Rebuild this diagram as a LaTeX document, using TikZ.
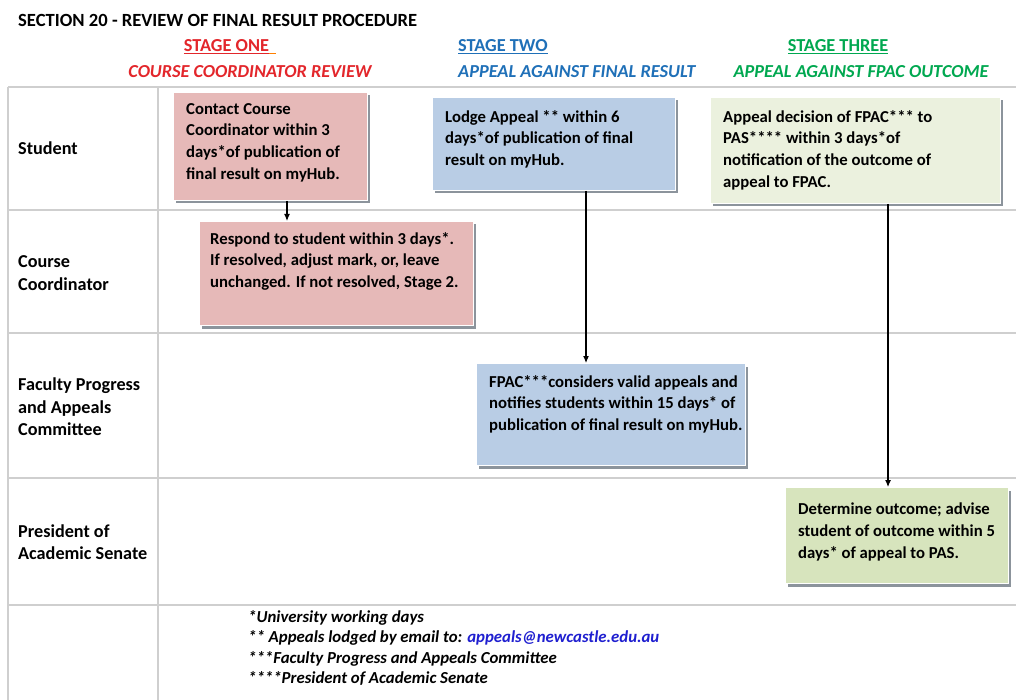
\documentclass[tikz,border=0pt]{standalone}
\usepackage{fontspec}
\setmainfont{Carlito}
\usetikzlibrary{shadows,arrows.meta}
\definecolor{pinkf}{HTML}{E6B9B8}
\definecolor{bluef}{HTML}{B9CDE5}
\definecolor{greenl}{HTML}{EBF1DE}
\definecolor{greend}{HTML}{D7E4BD}
\definecolor{redt}{HTML}{E3262B}
\definecolor{bluet}{HTML}{1F70B8}
\definecolor{greent}{HTML}{00A850}
\definecolor{gridc}{HTML}{CFCFCF}
\definecolor{mailc}{HTML}{1F1FD0}
\definecolor{shadowc}{HTML}{8C949C}
\tikzset{
  box/.style={draw=white, line width=1pt, anchor=north west, inner sep=0pt,
    drop shadow={shadow xshift=2pt, shadow yshift=-3pt, fill=shadowc, opacity=1}},
  btxt/.style={anchor=north west, align=left, inner sep=0pt,
    font=\bfseries\fontsize{16.7}{21.8}\selectfont},
  lbl/.style={anchor=west, align=left, inner sep=0pt,
    font=\bfseries\fontsize{18.2}{22.5}\selectfont},
  head/.style={anchor=center, inner sep=0pt, font=\bfseries\fontsize{18.3}{20}\selectfont},
  headi/.style={anchor=center, inner sep=0pt, font=\bfseries\itshape\fontsize{18.3}{20}\selectfont},
  grid/.style={draw=gridc, line width=1.3pt},
  arr/.style={-{Latex[length=7pt,width=6pt]}, line width=1.1pt, black},
  foot/.style={anchor=north west, align=left, inner sep=0pt,
    font=\bfseries\itshape\fontsize{16.8}{20.5}\selectfont},
}
\begin{document}
\begin{tikzpicture}[x=1pt,y=-1pt]
\useasboundingbox[fill=white] (0,0) rectangle (1016,700);
% table grid
\foreach \yy in {87,210,333,478,605} \draw[grid] (8,\yy) -- (1016,\yy);
\draw[grid] (8,87) -- (8,700);
\draw[grid] (158,87) -- (158,700);
% title and headings
\node[head, anchor=west, font=\bfseries\fontsize{18.6}{20}\selectfont] (title) at (18,20) {SECTION 20 - REVIEW OF FINAL RESULT PROCEDURE};
\node[head, text=redt] (s1) at (230,47) {\underline{STAGE ONE}\textcolor{orange}{\underline{\hspace{7pt}}}};
\node[headi, text=redt] (s1b) at (250,72) {COURSE COORDINATOR REVIEW};
\node[head, text=bluet, anchor=west] (s2) at (458,47) {\underline{STAGE TWO}};
\node[headi, text=bluet, anchor=west] (s2b) at (458,72) {APPEAL AGAINST FINAL RESULT};
\node[head, text=greent] (s3) at (838,47) {\underline{STAGE THREE}};
\node[headi, text=greent] (s3b) at (861,72) {APPEAL AGAINST FPAC OUTCOME};
% row labels
\node[lbl] (r1) at (18,148) {Student};
\node[lbl] (r2) at (18,273) {Course\\Coordinator};
\node[lbl] (r3) at (18,407) {Faculty Progress\\and Appeals\\Committee};
\node[lbl] (r4) at (18,542) {President of\\Academic Senate};
% boxes
\node[box, fill=pinkf, minimum width=194pt, minimum height=108pt] (c1) at (173,92) {};
\node[btxt] (c1t) at (186,103) {Contact Course\\Coordinator within 3\\days*of publication of\\final result on myHub.};
\node[box, fill=pinkf, minimum width=274pt, minimum height=104pt] (c2) at (199,221) {};
\node[btxt] (c2t) at (210,232) {Respond to student within 3 days*.\\If resolved, adjust mark, or, leave\\unchanged. If not resolved, Stage 2.};
\node[box, fill=bluef, minimum width=243pt, minimum height=93pt] (b1) at (432,97) {};
\node[btxt] (b1t) at (445,110) {Lodge Appeal ** within 6\\days*of publication of final\\result on myHub.};
\node[box, fill=greenl, minimum width=290pt, minimum height=106pt] (g1) at (710,97) {};
\node[btxt] (g1t) at (723,110) {Appeal decision of FPAC*** to\\PAS**** within 3 days*of\\notification of the outcome of\\appeal to FPAC.};
\node[box, fill=bluef, minimum width=269pt, minimum height=102pt] (b2) at (476,363) {};
\node[btxt] (b2t) at (489,375) {FPAC***considers valid appeals and\\notifies students within 15 days* of\\publication of final result on myHub.};
\node[box, fill=greend, minimum width=223pt, minimum height=96pt] (g2) at (785,487) {};
\node[btxt] (g2t) at (798,503) {Determine outcome; advise\\student of outcome within 5\\days* of appeal to PAS.};
% arrows
\coordinate (ax1) at (287,0);
\coordinate (ax2) at (586,0);
\coordinate (ax3) at (888,0);
\draw[arr] (c1.south -| ax1) -- (c2.north -| ax1);
\draw[arr] (b1.south -| ax2) -- (b2.north -| ax2);
\draw[arr] (g1.south -| ax3) -- (g2.north -| ax3);
% footnotes
\node[foot] (fn) at (248,610) {*University working days\\** Appeals lodged by email to: \textcolor{mailc}{appeals@newcastle.edu.au}\\***Faculty Progress and Appeals Committee\\****President of Academic Senate};
\end{tikzpicture}
\end{document}
